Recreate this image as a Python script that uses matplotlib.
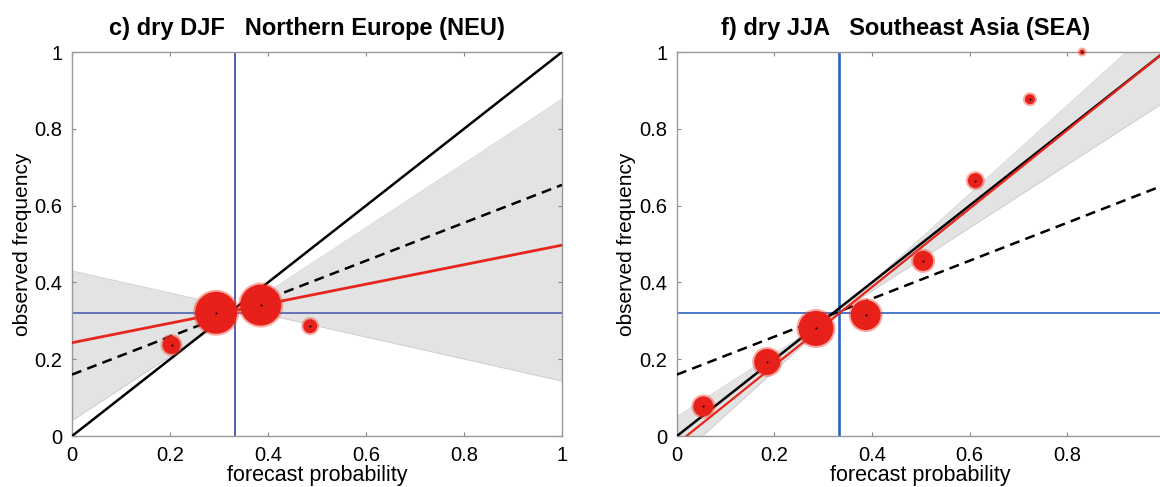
import numpy as np
import matplotlib
matplotlib.use('Agg')
import matplotlib.pyplot as plt

plt.rcParams['font.family'] = ['Liberation Sans', 'DejaVu Sans']

# reliability points: forecast probability, observed frequency, marker diameter (px)
neu_fc = [0.203, 0.294, 0.385, 0.486]
neu_obs = [0.237, 0.321, 0.341, 0.286]
neu_size = [18, 42, 41, 14]

sea_fc = [0.054, 0.185, 0.285, 0.387, 0.505, 0.612, 0.724, 0.831]
sea_obs = [0.077, 0.193, 0.280, 0.315, 0.456, 0.665, 0.877, 1.0]
sea_size = [20, 26, 35, 30, 20, 15, 10, 5]

# regression line and bowtie edges, given as (value at x=0, value at x=1)
neu_fit = [0.243, 0.497]
neu_edge_a = [0.43, 0.143]
neu_edge_b = [0.04, 0.877]
sea_fit = [-0.02, 1.0]
sea_edge_a = [0.05, 0.87]
sea_edge_b = [-0.06, 1.09]

no_skill = [0.16, 0.654]
clim_x = 0.333
clim_y = 0.32

titles = ['c) dry DJF   Northern Europe (NEU)', 'f) dry JJA   Southeast Asia (SEA)']
ticks = [0, 0.2, 0.4, 0.6, 0.8, 1]
tick_labels = ['0', '0.2', '0.4', '0.6', '0.8', '1']


def line(p, x):
    return p[0] + (p[1] - p[0]) * x


def panel(ax, title, title_x, fc, obs, size, fit, ea, eb, blue, blue_lw, fit_lw):
    x = np.linspace(0, 1, 200)
    ya = line(ea, x)
    yb = line(eb, x)
    ax.fill_between(x, np.minimum(ya, yb), np.maximum(ya, yb),
                    color='#e3e3e3', lw=0, zorder=1)
    ax.plot(x, np.minimum(ya, yb), color='#cccccc', lw=0.6, zorder=1)
    ax.plot(x, np.maximum(ya, yb), color='#cccccc', lw=0.6, zorder=1)

    ax.axvline(clim_x, color=blue, lw=blue_lw, zorder=2)
    ax.axhline(clim_y, color=blue, lw=1.2, zorder=2)

    ax.plot([0, 1], [0, 1], color='black', lw=1.8, zorder=3)
    ax.plot([0, 1], no_skill, color='black', lw=1.8, ls=(0, (4, 2.5)), zorder=3)
    ax.plot([0, 1], fit, color='#e8251c', lw=fit_lw, zorder=4)

    s = [(d * 0.72) ** 2 for d in size]
    halo = [((d + 4) * 0.72) ** 2 for d in size]
    ax.scatter(fc, obs, s=halo, color='#f04434', alpha=0.45, lw=0,
               zorder=5, clip_on=False)
    ax.scatter(fc, obs, s=s, color='#e8201a', lw=0, zorder=6, clip_on=False)
    ax.scatter(fc, obs, s=2, color='black', lw=0, zorder=7, clip_on=False)

    ax.set_xlim(0, 1)
    ax.set_ylim(0, 1)
    ax.set_xticks(ticks)
    ax.set_xticklabels(tick_labels)
    ax.set_yticks(ticks)
    ax.set_yticklabels(tick_labels)
    ax.tick_params(direction='in', length=3, color='#888888', labelsize=14.5,
                   top=True, right=True)
    ax.tick_params(axis='x', pad=7)
    ax.tick_params(axis='y', pad=7)
    for sp in ax.spines.values():
        sp.set_color('#999999')
        sp.set_linewidth(1.0)
    ax.set_xlabel('forecast probability', fontsize=15.5)
    ax.xaxis.set_label_coords(0.5, -0.076)
    ax.set_ylabel('observed frequency', fontsize=15, labelpad=2)
    ax.set_title(title, x=title_x, fontsize=17, fontweight='bold', pad=12)


fig = plt.figure(figsize=(11.6, 4.87), dpi=100)
ax1 = fig.add_axes([0.0621, 0.1047, 0.4224, 0.7885])
ax2 = fig.add_axes([0.5836, 0.1047, 0.4203, 0.7885])

panel(ax1, titles[0], 0.48, neu_fc, neu_obs, neu_size, neu_fit,
      neu_edge_a, neu_edge_b, '#5060b0', 1.4, 2.0)
panel(ax2, titles[1], 0.468, sea_fc, sea_obs, sea_size, sea_fit,
      sea_edge_a, sea_edge_b, '#2a64c0', 1.9, 1.6)

fig.savefig('out.png', dpi=100)
